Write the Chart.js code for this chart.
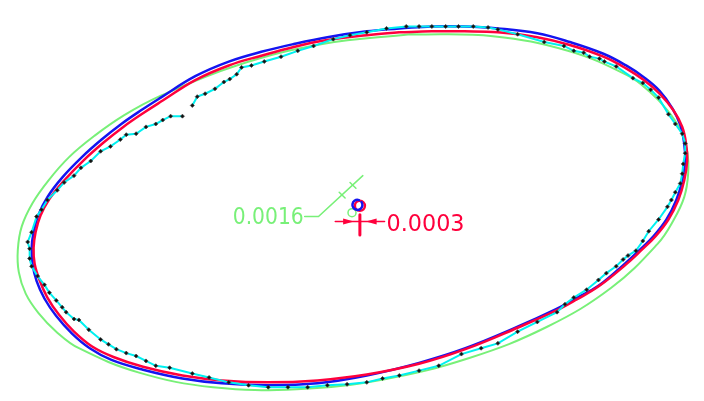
<!DOCTYPE html>
<html>
<head>
<meta charset="utf-8">
<script src="https://cdn.jsdelivr.net/npm/chart.js@4"></script>
<style>
html, body { margin: 0; padding: 0; background: #fff; }
#wrap { width: 704px; height: 401px; position: relative; }
</style>
</head>
<body>
<div id="wrap"><canvas id="fitChart"></canvas></div>
<script>
// traced contour points (picture units, y grows downward)
const measuredX = [190, 195, 203, 213, 222, 228, 235, 240, 250, 263, 280, 297, 313, 333, 350, 367, 387, 407, 420, 433, 447, 460, 475, 490, 500, 520, 547, 567, 577, 587, 593, 603, 608, 620, 637, 647, 655, 663, 673, 680, 687, 690, 690, 688, 687, 685, 680, 676, 672, 663, 653, 647, 640, 632, 627, 620, 610, 602, 590, 577, 568, 560, 540, 520, 500, 483, 463, 440, 420, 400, 383, 367, 347, 327, 307, 287, 267, 247, 227, 207, 190, 167, 153, 143, 133, 123, 113, 105, 97, 85, 75, 70, 62, 58, 52, 45, 40, 33, 27, 25, 25, 23, 27, 32, 37, 43, 53, 60, 70, 77, 87, 97, 107, 117, 123, 133, 143, 153, 160, 168, 180];
const measuredY = [103, 94, 91, 86, 79, 76, 71, 64, 62, 58, 53, 47, 42, 35, 31, 28, 24, 22, 22, 22, 22, 22, 22, 23, 25, 30, 38, 42, 47, 49, 53, 55, 58, 63, 75, 80, 87, 95, 112, 122, 132, 142, 152, 163, 173, 183, 192, 200, 207, 220, 232, 242, 252, 257, 261, 268, 275, 282, 292, 300, 307, 315, 325, 335, 347, 352, 358, 370, 375, 380, 383, 387, 389, 390, 392, 392, 392, 390, 387, 382, 378, 372, 370, 365, 360, 357, 353, 348, 343, 333, 323, 322, 315, 310, 303, 295, 287, 278, 268, 260, 250, 243, 233, 217, 210, 200, 190, 182, 175, 167, 160, 150, 145, 138, 133, 132, 125, 122, 118, 114, 114];

// least squares fit (red), closed, starting at the top
const redX = [400, 433, 466, 500, 540, 573, 607, 630, 648, 664, 678, 687, 691, 692, 689, 683, 673, 660, 645, 630, 603, 580, 560, 520, 467, 420, 367, 317, 267, 220, 180, 140, 110, 88, 70, 55, 43, 35, 30, 29, 31, 36, 45, 60, 80, 100, 120, 140, 160, 193, 227, 260, 293, 327, 367, 400];
const redY = [28, 27, 27, 28, 33, 41, 53, 65, 77, 91, 108, 125, 143, 160, 180, 200, 220, 237, 252, 266, 288, 302, 313, 331, 353, 368, 379, 385, 387, 385, 380, 371, 361, 350, 335, 318, 300, 282, 265, 249, 233, 216, 199, 180, 159, 141, 125, 111, 98, 77, 62, 52, 43, 36, 31, 28];

// minimum zone fit (blue)
const blueX = [400, 433, 466, 500, 540, 573, 607, 630, 648, 664, 677, 685, 689, 690, 687, 681, 671, 658, 643, 628, 602, 579, 559, 520, 467, 420, 367, 317, 267, 220, 180, 140, 108, 86, 68, 52, 40, 32, 28, 27, 29, 34, 43, 58, 78, 98, 118, 138, 158, 193, 227, 260, 293, 327, 367, 400];
const blueY = [24, 22, 22, 24, 29, 38, 50, 62, 74, 88, 106, 123, 142, 160, 180, 200, 220, 237, 252, 266, 288, 301, 312, 330, 352, 367, 380, 388, 390, 388, 383, 374, 364, 352, 337, 319, 301, 283, 266, 250, 233, 215, 197, 177, 156, 138, 122, 108, 95, 73, 58, 48, 40, 33, 27, 24];

// outer fit (green)
const greenX = [411, 495, 571, 631, 654, 672, 685, 692, 693, 689, 678, 662, 615, 550, 471, 384, 296, 211, 136, 75, 52, 34, 21, 14, 13, 17, 28, 44, 65, 91, 121, 156, 235, 322, 411];
const greenY = [30, 32, 47, 72, 89, 108, 128, 150, 173, 197, 221, 245, 290, 330, 362, 384, 394, 392, 377, 352, 335, 316, 296, 274, 251, 227, 203, 180, 156, 134, 113, 94, 62, 40, 30];

const greenLabel = '0.0016';
const redLabel = '0.0003';

const toPoints = (xs, ys) => xs.map((x, i) => ({ x: x, y: ys[i] }));

const GREEN = 'rgb(120,240,120)';
const RED = 'rgb(255,0,60)';
const BLUE = 'rgb(20,20,240)';
const CYAN = 'rgb(0,240,240)';

const dimensionPlugin = {
    id: 'dimensions',
    afterDatasetsDraw(chart) {
        const ctx = chart.ctx;
        const px = v => chart.scales.x.getPixelForValue(v);
        const py = v => chart.scales.y.getPixelForValue(v);
        ctx.save();
        ctx.lineCap = 'round';

        // green leader + dimension line
        ctx.strokeStyle = GREEN;
        ctx.lineWidth = 1.5;
        ctx.beginPath();
        ctx.moveTo(px(304), py(217));
        ctx.lineTo(px(318), py(217));
        ctx.lineTo(px(363), py(175));
        ctx.stroke();
        [[342, 195], [353, 185]].forEach(function(p) {
            ctx.beginPath();
            ctx.moveTo(px(p[0] - 3), py(p[1] - 3));
            ctx.lineTo(px(p[0] + 3), py(p[1] + 3));
            ctx.stroke();
        });
        ctx.beginPath();
        ctx.arc(px(352), py(213), 4, 0, Math.PI * 2);
        ctx.stroke();

        // centres
        ctx.lineWidth = 2.5;
        ctx.strokeStyle = RED;
        ctx.beginPath();
        ctx.arc(px(360), py(206), 5, 0, Math.PI * 2);
        ctx.stroke();
        ctx.strokeStyle = BLUE;
        ctx.beginPath();
        ctx.arc(px(357.5), py(205), 5, -0.2 * Math.PI, 1.6 * Math.PI);
        ctx.stroke();

        // red dimension
        ctx.strokeStyle = RED;
        ctx.fillStyle = RED;
        ctx.lineWidth = 1.5;
        ctx.beginPath();
        ctx.moveTo(px(335), py(222));
        ctx.lineTo(px(385), py(222));
        ctx.stroke();
        ctx.lineWidth = 3;
        ctx.beginPath();
        ctx.moveTo(px(360), py(215));
        ctx.lineTo(px(360), py(236));
        ctx.stroke();
        [[354, 1], [366, -1]].forEach(function(a) {
            ctx.beginPath();
            ctx.moveTo(px(a[0]), py(222));
            ctx.lineTo(px(a[0] - a[1] * 11), py(219));
            ctx.lineTo(px(a[0] - a[1] * 11), py(225));
            ctx.closePath();
            ctx.fill();
        });

        ctx.font = '23px "DejaVu Sans", sans-serif';
        ctx.textBaseline = 'alphabetic';
        ctx.fillStyle = GREEN;
        ctx.fillText(greenLabel, px(231), py(225), 71);
        ctx.fillStyle = RED;
        ctx.fillText(redLabel, px(387), py(232), 78);
        ctx.restore();
    }
};

document.addEventListener('DOMContentLoaded', function() {
    const ctx = document.getElementById('fitChart').getContext('2d');
    new Chart(ctx, {
        type: 'scatter',
        data: {
            datasets: [{
                label: 'Measured',
                data: toPoints(measuredX, measuredY),
                showLine: true,
                borderColor: CYAN,
                borderWidth: 2,
                tension: 0,
                pointStyle: 'rectRot',
                pointRadius: 2,
                pointBackgroundColor: '#111',
                pointBorderColor: 'rgba(60,60,60,0.7)',
                pointBorderWidth: 1
            }, {
                label: 'LSQ',
                data: toPoints(redX, redY),
                showLine: true,
                borderColor: RED,
                borderWidth: 2.5,
                tension: 0.4,
                pointRadius: 0
            }, {
                label: 'MZ',
                data: toPoints(blueX, blueY),
                showLine: true,
                borderColor: BLUE,
                borderWidth: 2.5,
                tension: 0.4,
                pointRadius: 0
            }, {
                label: 'Outer',
                data: toPoints(greenX, greenY),
                showLine: true,
                borderColor: GREEN,
                borderWidth: 2,
                tension: 0.4,
                pointRadius: 0
            }]
        },
        options: {
            responsive: true,
            maintainAspectRatio: false,
            animation: false,
            layout: { padding: 0 },
            plugins: {
                legend: { display: false },
                tooltip: { enabled: false }
            },
            scales: {
                x: { type: 'linear', min: 0, max: 704, display: false },
                y: { type: 'linear', min: 0, max: 401, reverse: true, display: false }
            }
        },
        plugins: [dimensionPlugin]
    });
});
</script>
</body>
</html>
